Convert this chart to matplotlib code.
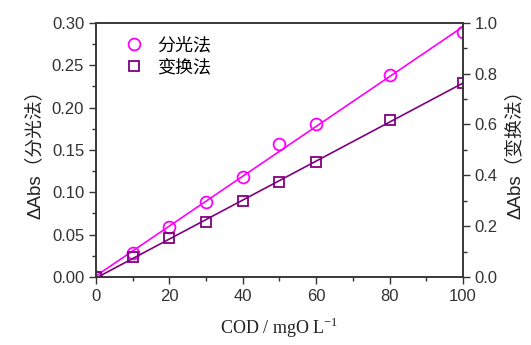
import numpy as np
import matplotlib.pyplot as plt
from matplotlib.ticker import MultipleLocator

plt.rcParams['font.family'] = ['Liberation Sans', 'Noto Sans CJK SC', 'DejaVu Sans']

cod = [0, 10, 20, 30, 40, 50, 60, 80, 100]
abs_spec = [0.0, 0.028, 0.059, 0.0888, 0.118, 0.157, 0.181, 0.238, 0.289]
abs_trans = [0.0, 0.0775, 0.152, 0.2175, 0.299, 0.375, 0.453, 0.617, 0.764]

pink = '#ff00ff'
purple = '#800080'

fig = plt.figure(figsize=(5.31, 3.45), dpi=100)
ax = fig.add_axes([0.1808, 0.197, 0.6911, 0.737])
ax2 = ax.twinx()

xs = np.array([0, 100])
k1, b1 = np.polyfit(cod, abs_spec, 1)
k2, b2 = np.polyfit(cod, abs_trans, 1)

ax.plot(xs, k1 * xs + b1, color=pink, lw=1.2, zorder=2)
h1, = ax.plot(cod, abs_spec, 'o', mfc='none', mec=pink, mew=1.3, ms=8.5, label='分光法')
ax2.plot(xs, k2 * xs + b2, color=purple, lw=1.2, zorder=2)
h2, = ax2.plot(cod, abs_trans, 's', mfc='none', mec=purple, mew=1.3, ms=7.5, label='变换法')

ax.set_xlim(0, 100)
ax.set_ylim(0, 0.30)
ax2.set_ylim(0, 1.0)

ax.xaxis.set_major_locator(MultipleLocator(20))
ax.xaxis.set_minor_locator(MultipleLocator(10))
ax.yaxis.set_major_locator(MultipleLocator(0.05))
ax.yaxis.set_minor_locator(MultipleLocator(0.025))
ax2.yaxis.set_major_locator(MultipleLocator(0.2))
ax2.yaxis.set_minor_locator(MultipleLocator(0.1))
ax.yaxis.set_major_formatter(plt.FormatStrFormatter('%.2f'))
ax2.yaxis.set_major_formatter(plt.FormatStrFormatter('%.1f'))

for a in (ax, ax2):
    a.tick_params(which='major', direction='out', length=5, width=1, labelsize=12, colors='#333333')
    a.tick_params(which='minor', direction='out', length=3, width=1, colors='#333333')
    for s in a.spines.values():
        s.set_linewidth(1.1)
        s.set_color('#333333')

ax.set_xlabel('COD / mgO L$^{\\mathregular{-1}}$', family='Liberation Serif', fontsize=13,
              labelpad=9, color='#222222')
ax.set_ylabel('ΔAbs（分光法）', fontsize=13.5, labelpad=6, color='#222222')
ax2.set_ylabel('ΔAbs（变换法）', fontsize=13.5, labelpad=6, color='#222222')

ax.legend(handles=[h1, h2], loc='upper left', bbox_to_anchor=(0.03, 0.995), frameon=False,
          handletextpad=0.5, labelspacing=0.2, borderaxespad=0.3, handlelength=1.6,
          prop={'family': ['Noto Sans CJK SC'], 'size': 13})

fig.savefig('out.png', dpi=100)
